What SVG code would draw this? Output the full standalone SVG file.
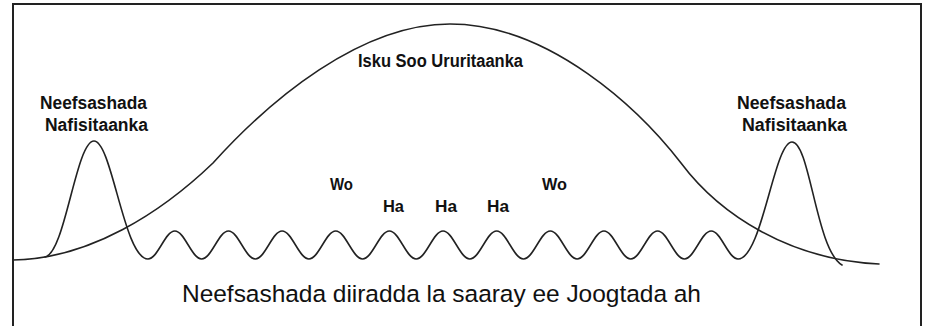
<svg xmlns="http://www.w3.org/2000/svg" width="928" height="326" viewBox="0 0 928 326">
  <style>
    .frame { fill: none; stroke: #222; stroke-width: 2; }
    .curve { fill: none; stroke: #222; stroke-width: 1.6; stroke-linecap: round; stroke-linejoin: round; }
    .lbl { font-family: "Liberation Sans", Arial, sans-serif; font-weight: bold; fill: #111; }
    .big { font-family: "Liberation Sans", Arial, sans-serif; font-size: 24.5px; fill: #111; }
  </style>
  <rect x="0" y="0" width="928" height="326" fill="#fff"/>
  <path class="frame" d="M13,340 V4 H921 V340"/>

  <g id="connectors">
    <path id="focus-envelope" class="curve" d="M13,260 C90,259 162,212 213,163 C270,100 360,24 450,24 C550,24 640,110 681,163 C720,215 790,260 879,264"/>
    <path id="breath-wave" class="curve" d="M45,257 C65,254 76,141 94,141 C112,141 124,259 148,259 C157.75,259 165.07,231 174.82,231 S191.89,259 201.64,259 S218.71,231 228.46,231 S245.53,259 255.28,259 S272.35,231 282.10,231 S299.17,259 308.92,259 S325.99,231 335.74,231 S352.81,259 362.56,259 S379.63,231 389.38,231 S406.45,259 416.20,259 S433.27,231 443.02,231 S460.09,259 469.84,259 S486.91,231 496.66,231 S513.73,259 523.48,259 S540.55,231 550.30,231 S567.37,259 577.12,259 S594.19,231 603.94,231 S621.01,259 630.76,259 S647.83,231 657.58,231 S674.65,259 684.40,259 S701.47,231 711.22,231 S728.29,259 738.04,259 C762,259 774,142 792,142 C810,142 816,250 842,265"/>
  </g>

  <g id="label-top">
    <text class="lbl" x="358" y="67" font-size="18" textLength="165" lengthAdjust="spacingAndGlyphs">Isku Soo Ururitaanka</text>
  </g>
  <g id="label-left">
    <text class="lbl" x="40" y="109" font-size="17.5" textLength="107" lengthAdjust="spacingAndGlyphs">Neefsashada</text>
    <text class="lbl" x="45" y="131" font-size="17.5" textLength="103" lengthAdjust="spacingAndGlyphs">Nafisitaanka</text>
  </g>
  <g id="label-right">
    <text class="lbl" x="737" y="109" font-size="17.5" textLength="109" lengthAdjust="spacingAndGlyphs">Neefsashada</text>
    <text class="lbl" x="742" y="131" font-size="17.5" textLength="105" lengthAdjust="spacingAndGlyphs">Nafisitaanka</text>
  </g>
  <g id="label-wo-1"><text class="lbl" x="330" y="190" font-size="16" textLength="23" lengthAdjust="spacingAndGlyphs">Wo</text></g>
  <g id="label-wo-2"><text class="lbl" x="542" y="190" font-size="16" textLength="25" lengthAdjust="spacingAndGlyphs">Wo</text></g>
  <g id="label-ha-1"><text class="lbl" x="383" y="212" font-size="16" textLength="21" lengthAdjust="spacingAndGlyphs">Ha</text></g>
  <g id="label-ha-2"><text class="lbl" x="435" y="212" font-size="16" textLength="22" lengthAdjust="spacingAndGlyphs">Ha</text></g>
  <g id="label-ha-3"><text class="lbl" x="487" y="212" font-size="16" textLength="22" lengthAdjust="spacingAndGlyphs">Ha</text></g>
  <g id="label-bottom">
    <text class="big" x="182" y="301.5" textLength="519" lengthAdjust="spacing">Neefsashada diiradda la saaray ee Joogtada ah</text>
  </g>
</svg>
